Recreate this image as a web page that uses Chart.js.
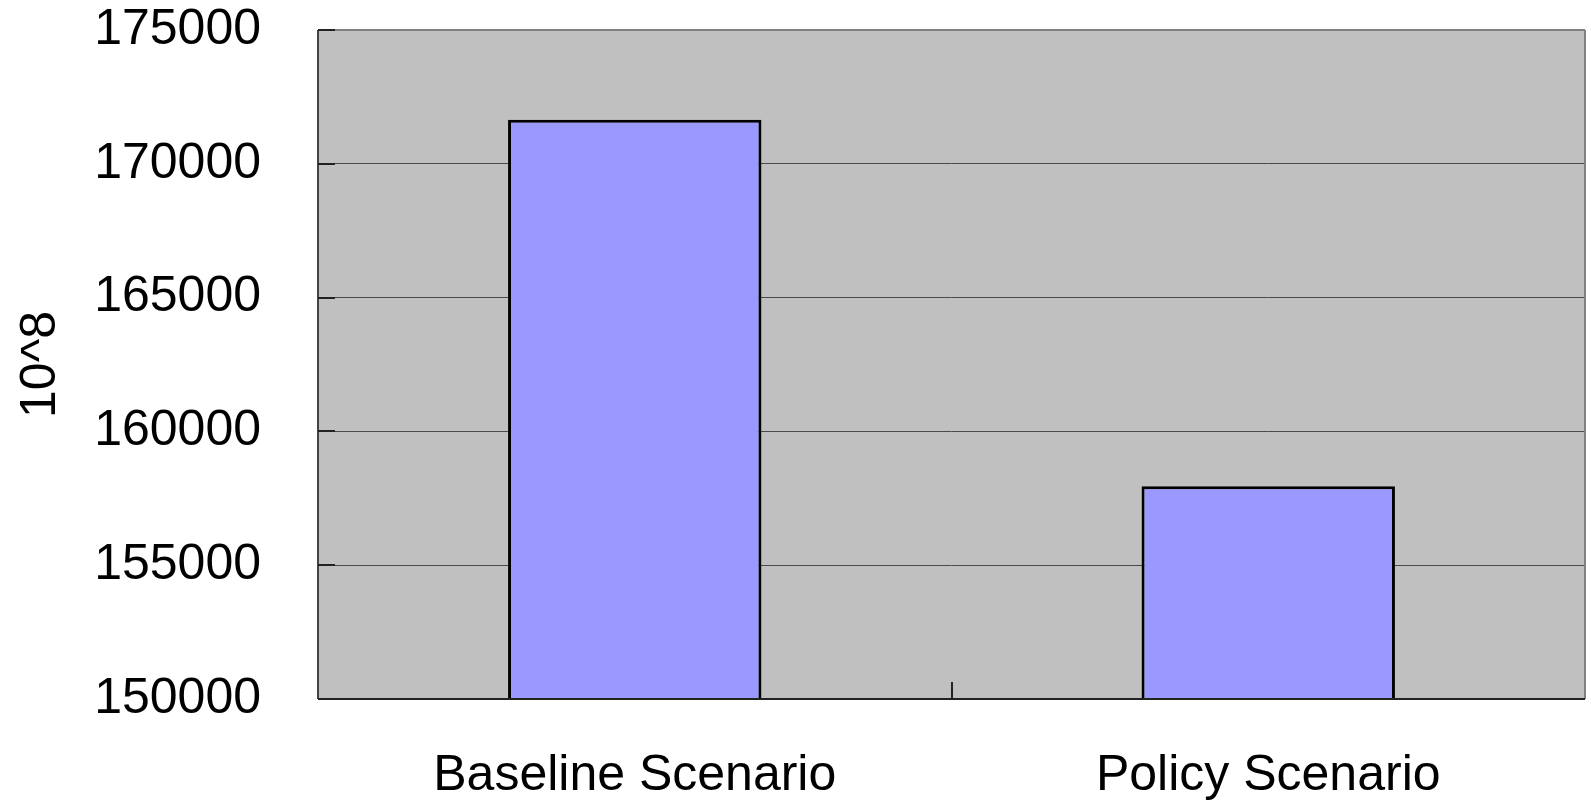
<!DOCTYPE html>
<html lang="en">
<head>
    <meta charset="UTF-8">
    <title>Scenario comparison</title>
    <script src="https://cdn.jsdelivr.net/npm/chart.js"></script>
    <style>
        html, body { margin: 0; padding: 0; background: #fff; }
        #wrap { width: 1591px; height: 803px; }
    </style>
</head>
<body>
    <div id="wrap"><canvas id="chart" width="1591" height="803"></canvas></div>
    <script>
        // scenario totals, in units of 10^8
        const scenarios = ['Baseline Scenario', 'Policy Scenario'];
        const totals = [171650, 157950];
        const yMin = 150000;
        const yMax = 175000;
        const yStep = 5000;

        // grey plot area, frame and short inner tick marks
        const plotFrame = {
            id: 'plotFrame',
            beforeDraw(chart) {
                const { ctx, chartArea: a } = chart;
                ctx.save();
                ctx.fillStyle = '#c0c0c0';
                ctx.fillRect(a.left, a.top, a.right - a.left, a.bottom - a.top);
                ctx.restore();
            },
            afterDraw(chart) {
                const { ctx, chartArea: a, scales } = chart;
                ctx.save();
                ctx.lineWidth = 2;
                ctx.strokeStyle = '#808080';
                ctx.beginPath();
                ctx.moveTo(a.left, a.top); ctx.lineTo(a.right, a.top);
                ctx.moveTo(a.right, a.top); ctx.lineTo(a.right, a.bottom);
                ctx.stroke();
                ctx.strokeStyle = '#444';
                ctx.beginPath();
                ctx.moveTo(a.left, a.top); ctx.lineTo(a.left, a.bottom);
                ctx.stroke();
                ctx.strokeStyle = '#222';
                ctx.beginPath();
                ctx.moveTo(a.left, a.bottom); ctx.lineTo(a.right, a.bottom);
                ctx.stroke();

                // ticks pointing into the plot
                ctx.lineWidth = 2;
                ctx.strokeStyle = '#222';
                ctx.beginPath();
                scales.y.ticks.forEach(t => {
                    const y = Math.round(scales.y.getPixelForValue(t.value));
                    ctx.moveTo(a.left, y); ctx.lineTo(a.left + 17, y);
                });
                const mid = Math.round((scales.x.getPixelForValue(0) + scales.x.getPixelForValue(1)) / 2);
                ctx.moveTo(mid, a.bottom); ctx.lineTo(mid, a.bottom - 17);
                ctx.stroke();
                ctx.restore();
            }
        };

        const font = { family: '"Liberation Sans", Arial, sans-serif', size: 50 };

        new Chart(document.getElementById('chart').getContext('2d'), {
            type: 'bar',
            data: {
                labels: scenarios,
                datasets: [{
                    data: totals,
                    backgroundColor: '#9999ff',
                    borderColor: '#000',
                    borderWidth: 3,
                    borderSkipped: false,
                    categoryPercentage: 0.4,
                    barPercentage: 1
                }]
            },
            options: {
                responsive: false,
                animation: false,
                layout: { padding: { top: 30, right: 6, bottom: 0, left: 11 } },
                plugins: { legend: { display: false }, tooltip: { enabled: false } },
                scales: {
                    x: {
                        grid: { display: false },
                        border: { display: false },
                        ticks: { font: font, color: '#000', padding: 39, maxRotation: 0 },
                        afterFit(scale) {
                            scale.height = 803 - 699;
                            scale.paddingLeft = 0;
                            scale.paddingRight = 0;
                        }
                    },
                    y: {
                        min: yMin,
                        max: yMax,
                        border: { display: false },
                        grid: { color: '#4a4a4a', lineWidth: 1, drawTicks: false },
                        ticks: {
                            stepSize: yStep,
                            font: font,
                            color: '#000',
                            padding: 57,
                            callback: v => String(v)
                        },
                        title: {
                            display: true,
                            text: '10^8',
                            font: font,
                            color: '#000',
                            padding: 0
                        },
                        afterFit(scale) {
                            scale.width = 318 - 11;
                            scale.paddingTop = 0;
                            scale.paddingBottom = 0;
                        }
                    }
                }
            },
            plugins: [plotFrame]
        });
    </script>
</body>
</html>
